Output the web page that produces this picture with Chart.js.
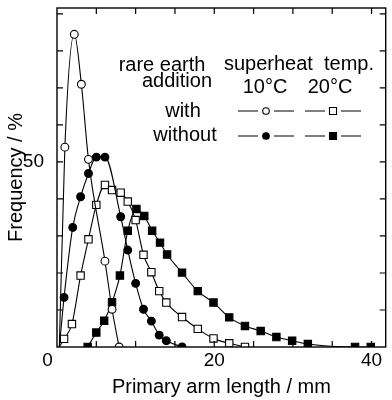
<!DOCTYPE html>
<html>
<head>
<meta charset="utf-8">
<script src="https://cdn.jsdelivr.net/npm/chart.js@4"></script>
<style>
  html, body { margin: 0; padding: 0; background: #fff; }
  #wrap { width: 392px; height: 400px; }
</style>
</head>
<body>
<div id="wrap"><canvas id="chart" width="392" height="400"></canvas></div>
<script>
const FONT = "'Liberation Sans', Arial, Helvetica, sans-serif";

// open circles: with rare earth, superheat 10 C (first point is the origin, no marker)
const withX10 = [0.3, 1.0, 2.2, 3.1, 4.0, 6.1, 7.0, 7.9];
const withY10 = [0, 54, 84.5, 71, 50.7, 23.2, 10.2, 0];

// filled circles: without rare earth, 10 C
const withoutX10 = [0.3, 0.9, 2.0, 3.0, 4.0, 5.0, 6.1, 8.1, 9.0, 10.0, 11.0, 12.0, 13.0, 13.9, 15.9];
const withoutY10 = [0, 13.4, 32.3, 40.6, 46.9, 51.3, 51.3, 35.2, 26.2, 17.2, 10.2, 7.0, 3.2, 1.7, 0];

// open squares: with rare earth, 20 C
const withX20 = [0.3, 0.9, 1.9, 3.0, 4.0, 5.0, 6.1, 7.0, 8.1, 9.0, 10.0, 11.0, 12.0, 13.0, 13.9, 15.9, 17.9, 19.9, 21.9, 23.9];
const withY20 = [0, 2.2, 6.2, 19.3, 29.1, 38.4, 43.8, 42.4, 41.7, 39.3, 34.3, 24.9, 20.2, 15.1, 12.0, 8.1, 4.9, 2.3, 1.0, 0];

// filled squares: without rare earth, 20 C
const withoutX20 = [3.9, 5.0, 6.0, 7.0, 8.0, 9.0, 10.1, 11.1, 12.1, 13.1, 14.0, 15.9, 17.9, 19.9, 21.9, 23.9, 25.9, 27.9, 29.9, 31.9, 37.9, 39.9];
const withoutY20 = [0, 3.9, 7.1, 12.1, 19.3, 31.4, 37.3, 35.4, 31.4, 28.2, 25.0, 20.1, 15.1, 12.0, 8.0, 5.7, 4.3, 2.7, 1.7, 0.8, 0, 0];

// the corner "0" is shared by both axes, so only the x axis prints it
const xLabelled = [0, 20, 40];
const yLabelled = [50];

function series(xs, ys, style, filled, fromOrigin) {
    const r = style === "rect" ? 5.2 : 3.9;
    return {
        data: xs.map((x, i) => ({ x: x, y: ys[i] })),
        borderColor: "#000",
        borderWidth: 1.1,
        pointStyle: style,
        pointRadius: xs.map((x, i) => (fromOrigin && i === 0) ? 0 : r),
        pointBackgroundColor: filled ? "#000" : "#fff",
        pointBorderColor: "#000",
        pointBorderWidth: 1.1,
        cubicInterpolationMode: "monotone",
        fill: false
    };
}

// box + inward ticks on all four sides
const frame = {
    id: "frame",
    afterDraw(chart) {
        const { ctx, chartArea: a, scales } = chart;
        ctx.save();
        ctx.strokeStyle = "#000";
        ctx.lineWidth = 1.4;
        ctx.strokeRect(a.left, a.top, a.right - a.left, a.bottom - a.top);
        ctx.lineWidth = 1.2;
        ctx.beginPath();
        scales.x.ticks.forEach(t => {
            const px = scales.x.getPixelForValue(t.value);
            if (px <= a.left + 1 || px >= a.right - 1) return;
            ctx.moveTo(px, a.bottom); ctx.lineTo(px, a.bottom - 6);
            ctx.moveTo(px, a.top); ctx.lineTo(px, a.top + 6);
        });
        scales.y.ticks.forEach(t => {
            const py = scales.y.getPixelForValue(t.value);
            if (py >= a.bottom - 1 || py <= a.top + 1) return;
            ctx.moveTo(a.left, py); ctx.lineTo(a.left + 6, py);
            ctx.moveTo(a.right, py); ctx.lineTo(a.right - 6, py);
        });
        ctx.stroke();
        ctx.restore();
    }
};

// the table-like legend in the upper right
const legendTable = {
    id: "legendTable",
    afterDraw(chart) {
        const ctx = chart.ctx;
        ctx.save();
        ctx.fillStyle = "#000";
        ctx.font = "20px " + FONT;
        ctx.textAlign = "center";
        ctx.textBaseline = "middle";
        ctx.fillText("rare earth", 162, 65);
        ctx.fillText("addition", 177, 81);
        ctx.fillText("superheat  temp.", 299, 64);
        ctx.fillText("10\u00B0C", 265, 87);
        ctx.fillText("20\u00B0C", 330, 87);
        ctx.fillText("with", 183, 111);
        ctx.fillText("without", 185, 135);

        ctx.strokeStyle = "#000";
        ctx.lineWidth = 1.1;
        const rows = [[111, false], [136, true]];
        rows.forEach(([y, filled]) => {
            [[266, "circle"], [333, "rect"]].forEach(([cx, shape]) => {
                ctx.beginPath();
                ctx.moveTo(cx - 28, y); ctx.lineTo(cx - 8, y);
                ctx.moveTo(cx + 8, y); ctx.lineTo(cx + 28, y);
                ctx.stroke();
                ctx.beginPath();
                if (shape === "circle") ctx.arc(cx, y, 3.3, 0, Math.PI * 2);
                else ctx.rect(cx - 3.5, y - 3.5, 7, 7);
                ctx.fillStyle = filled ? "#000" : "#fff";
                ctx.fill();
                ctx.stroke();
            });
        });
        ctx.restore();
    }
};

new Chart(document.getElementById("chart"), {
    type: "line",
    data: {
        datasets: [
            series(withX10, withY10, "circle", false, true),
            series(withoutX10, withoutY10, "circle", true, true),
            series(withX20, withY20, "rect", false, true),
            series(withoutX20, withoutY20, "rect", true, false)
        ]
    },
    options: {
        responsive: false,
        animation: false,
        layout: { padding: { top: 8, right: 1, left: 0, bottom: 0 } },
        plugins: { legend: { display: false }, tooltip: { enabled: false } },
        scales: {
            x: {
                type: "linear",
                min: 0,
                max: 41.8,
                afterFit: s => {
                    s.height = 53;
                    s.paddingLeft = 0;
                    s.paddingRight = 0;
                },
                grid: { display: false },
                border: { display: false },
                ticks: {
                    stepSize: 5,
                    includeBounds: false,
                    maxRotation: 0,
                    autoSkip: false,
                    padding: -6,
                    color: "#000",
                    font: { family: FONT, size: 19 },
                    // em space after the corner zero pushes it left of the axis, as in the original
                    callback: v => v === 0 ? "0\u2003" : (xLabelled.includes(v) ? String(v) : "")
                },
                title: {
                    display: true,
                    text: "Primary arm length / mm",
                    color: "#000",
                    font: { family: FONT, size: 20 },
                    padding: { top: 0, bottom: 1 }
                }
            },
            y: {
                type: "linear",
                min: 0,
                max: 91.6,
                afterFit: s => {
                    s.width = 57;
                    s.paddingTop = 0;
                    s.paddingBottom = 0;
                },
                grid: { display: false },
                border: { display: false },
                ticks: {
                    stepSize: 10,
                    includeBounds: false,
                    autoSkip: false,
                    padding: 5,
                    color: "#000",
                    font: { family: FONT, size: 19 },
                    callback: v => yLabelled.includes(v) ? String(v) : ""
                },
                title: {
                    display: true,
                    text: "Frequency / %",
                    color: "#000",
                    font: { family: FONT, size: 20 },
                    padding: { top: 4, bottom: 0 }
                }
            }
        }
    },
    plugins: [frame, legendTable]
});
</script>
</body>
</html>
